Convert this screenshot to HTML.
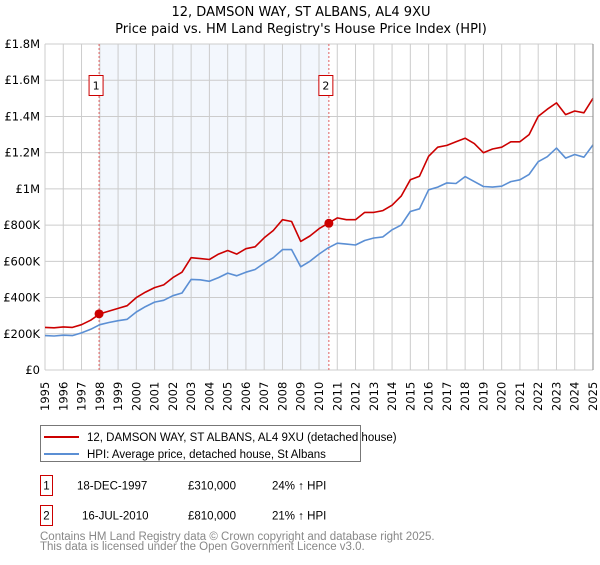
<!DOCTYPE html>
<html><head><meta charset="utf-8"><style>
body{margin:0;background:#fff;font-family:"Liberation Sans","DejaVu Sans",sans-serif;}
svg text{font-family:"DejaVu Sans","Liberation Sans",sans-serif;}
svg .lib{font-family:"Liberation Sans","DejaVu Sans",sans-serif;}
</style></head><body>
<svg id="chart" width="600" height="560" viewBox="0 0 600 560" xmlns="http://www.w3.org/2000/svg">
<g id="titles">
<text x="301" y="16" text-anchor="middle" font-size="13">12, DAMSON WAY, ST ALBANS, AL4 9XU</text>
<text x="301" y="33" text-anchor="middle" font-size="13">Price paid vs. HM Land Registry's House Price Index (HPI)</text>
</g>
<g id="plot"></g>
<g id="legend">
<rect x="40.5" y="425.5" width="320" height="36" fill="#fff" stroke="#777"/>
<line x1="44" y1="437" x2="79" y2="437" stroke="#cc0000" stroke-width="2"/>
<text class="lib" x="87" y="441" font-size="11.5">12, DAMSON WAY, ST ALBANS, AL4 9XU (detached house)</text>
<line x1="44" y1="454" x2="79" y2="454" stroke="#5b8fd4" stroke-width="2"/>
<text class="lib" x="87" y="458" font-size="11.5">HPI: Average price, detached house, St Albans</text>
</g>
<g id="table" font-size="11.5" class="lib">
<rect x="40.5" y="475.5" width="12" height="20" fill="#fff" stroke="#cc0000"/>
<text class="lib" x="46.5" y="489.5" text-anchor="middle">1</text>
<text class="lib" x="77" y="489.5">18-DEC-1997</text>
<text class="lib" x="188" y="489.5">£310,000</text>
<text class="lib" x="272" y="489.5">24% ↑ HPI</text>
<rect x="40.5" y="505.5" width="12" height="20" fill="#fff" stroke="#cc0000"/>
<text class="lib" x="46.5" y="519.5" text-anchor="middle">2</text>
<text class="lib" x="82" y="519.5">16-JUL-2010</text>
<text class="lib" x="188" y="519.5">£810,000</text>
<text class="lib" x="272" y="519.5">21% ↑ HPI</text>
</g>
<text class="lib" x="40" y="540" font-size="11.5" fill="#888">Contains HM Land Registry data © Crown copyright and database right 2025.</text>
<text class="lib" x="40" y="550" font-size="11.5" fill="#888">This data is licensed under the Open Government Licence v3.0.</text>
</svg>
<script>
// half-yearly samples from 1995.0 to 2025.0, values in £K
const startYear = 1995;
const hpiValues = [190,188,192,190,205,225,250,262,272,280,320,350,375,385,410,425,500,498,490,510,535,520,540,555,590,620,665,665,570,600,640,674,700,695,690,715,729,735,774,800,875,890,995,1010,1033,1030,1068,1040,1013,1010,1015,1040,1050,1080,1150,1178,1225,1170,1190,1175,1243];
const priceValues = [235,233,238,235,250,275,310,325,340,355,400,430,455,470,510,540,620,615,610,640,660,640,670,680,730,770,830,820,710,740,780,810,840,830,830,870,870,880,910,960,1050,1070,1180,1230,1240,1260,1280,1250,1200,1220,1230,1260,1260,1300,1400,1440,1475,1410,1430,1420,1500];
const yTicks = [0,200,400,600,800,1000,1200,1400,1600,1800];
const yTickLabels = ["£0","£200K","£400K","£600K","£800K","£1M","£1.2M","£1.4M","£1.6M","£1.8M"];
const xYears = [1995,1996,1997,1998,1999,2000,2001,2002,2003,2004,2005,2006,2007,2008,2009,2010,2011,2012,2013,2014,2015,2016,2017,2018,2019,2020,2021,2022,2023,2024,2025];
const sales = [1997.96, 2010.54];
const saleValues = [310, 810];
const saleLabels = ["1","2"];

const X0=45,X1=593,Y0=370,Y1=44;
const xs=t=>X0+(t-1995)/30*(X1-X0);
const ys=v=>Y0-v/1800*(Y0-Y1);
const NS="http://www.w3.org/2000/svg";
const g=document.getElementById('plot');
function mk(tag,attrs,parent){const e=document.createElementNS(NS,tag);for(const k in attrs)e.setAttribute(k,attrs[k]);(parent||g).appendChild(e);return e;}

const shade=mk('rect',{x:xs(sales[0]),y:Y1,width:xs(sales[1])-xs(sales[0]),height:Y0-Y1,fill:'#eef3fc',opacity:0.7});



xYears.forEach(yr=>{
  const l=mk('line',{x1:xs(yr),x2:xs(yr),y1:Y1,y2:Y0,stroke:'#cccccc'});
  
  
  const t=mk('text',{transform:`translate(${xs(yr)+4},${Y0+41}) rotate(-90)`,'font-size':'11.5'});
  t.textContent=yr;
  
  
});
yTicks.forEach((v,i)=>{
  const l=mk('line',{x1:X0,x2:X1,y1:ys(v),y2:ys(v),stroke:'#cccccc'});
  
  
  const t=mk('text',{x:40,y:ys(v)+4,'text-anchor':'end','font-size':'11.5'});
  t.textContent=yTickLabels[i];
  
  
});

sales.forEach((s,i)=>{
  const l=mk('line',{x1:xs(s),x2:xs(s),y1:Y1,y2:Y0,stroke:'#e06060','stroke-dasharray':'2,2'});
  
  
  const b=mk('rect',{x:xs(s)-10,y:75.5,width:14,height:20,fill:'#fff',stroke:'#cc0000'});
  
  
  const t=mk('text',{x:xs(s)-3,y:89.5,'text-anchor':'middle','font-size':'11'});
  t.textContent=saleLabels[i];
  
  
});

function series(vals,color,name){
  const d=vals.map((v,i)=>(i?'L':'M')+xs(startYear+i*0.5).toFixed(1)+','+ys(v).toFixed(1)).join('');
  const p=mk('path',{d:d,fill:'none',stroke:color,'stroke-width':1.6,'stroke-linejoin':'round'});
  
  
}
series(hpiValues,'#5b8fd4','hpi-line');
series(priceValues,'#cc0000','property-price-line');

sales.forEach((s,i)=>{
  const c=mk('circle',{cx:xs(s),cy:ys(saleValues[i]),r:4.5,fill:'#cc0000'});
  
  
});
const rb=mk('line',{x1:X1,x2:X1,y1:Y1,y2:Y0,stroke:'#888'});


</script>
</body></html>
